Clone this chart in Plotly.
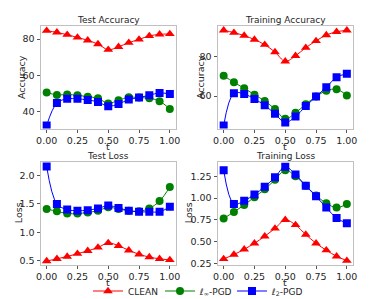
import plotly.graph_objects as go

t = [i / 12 for i in range(13)]

# Test Accuracy
ta_clean = [84.6, 83.7, 82.4, 80.9, 79.3, 77.2, 74.1, 75.7, 78.0, 79.8, 81.7, 82.6, 82.8]
ta_linf = [50.4, 49.1, 49.3, 48.9, 48.1, 47.2, 44.4, 46.1, 47.8, 47.6, 47.2, 45.6, 41.3]
ta_l2 = [32.2, 44.6, 46.9, 46.9, 46.3, 45.2, 42.8, 44.1, 46.5, 47.6, 48.9, 50.2, 49.6]

# Training Accuracy
tr_clean = [93.2, 92.0, 90.5, 88.5, 85.9, 82.2, 77.5, 80.3, 84.4, 87.8, 90.8, 92.4, 93.2]
tr_linf = [70.2, 66.9, 63.9, 60.7, 57.5, 53.4, 48.5, 51.5, 55.9, 59.7, 62.7, 63.4, 60.3]
tr_l2 = [45.1, 61.4, 61.0, 58.5, 55.3, 51.0, 46.6, 49.7, 54.9, 59.7, 64.4, 69.5, 71.2]

# Test Loss
tl_clean = [0.49, 0.53, 0.57, 0.62, 0.67, 0.73, 0.81, 0.76, 0.68, 0.61, 0.56, 0.53, 0.51]
tl_linf = [1.41, 1.37, 1.33, 1.33, 1.35, 1.38, 1.44, 1.41, 1.38, 1.37, 1.42, 1.55, 1.80]
tl_l2 = [2.16, 1.50, 1.40, 1.38, 1.39, 1.42, 1.47, 1.43, 1.38, 1.36, 1.36, 1.36, 1.45]

# Training Loss
trl_clean = [0.30, 0.35, 0.41, 0.48, 0.56, 0.65, 0.75, 0.69, 0.58, 0.48, 0.40, 0.33, 0.28]
trl_linf = [0.765, 0.84, 0.92, 1.01, 1.10, 1.21, 1.32, 1.25, 1.14, 1.03, 0.94, 0.89, 0.93]
trl_l2 = [1.32, 0.93, 0.97, 1.04, 1.13, 1.24, 1.36, 1.27, 1.14, 1.02, 0.89, 0.77, 0.71]

titles = ["Test Accuracy", "Training Accuracy", "Test Loss", "Training Loss"]
ylabels = ["Accuracy", "Accuracy", "Loss", "Loss"]
series_names = ["CLEAN", "<i>ℓ</i><sub>∞</sub>-PGD", "<i>ℓ</i><sub>2</sub>-PGD"]
xticks = [0, 0.25, 0.5, 0.75, 1.0]
xticklabels = ["0.00", "0.25", "0.50", "0.75", "1.00"]

data = [
    (ta_clean, ta_linf, ta_l2),
    (tr_clean, tr_linf, tr_l2),
    (tl_clean, tl_linf, tl_l2),
    (trl_clean, trl_linf, trl_l2),
]

W, H = 383, 299
D = 8  # page body margin offset
FONT = "DejaVu Sans"
TXT = "#262626"
FS = 9

colors = ["#ff0000", "#008000", "#0000ff"]
symbols = ["triangle-up", "circle", "square"]
msizes = [8.5, 8, 8]

# screen-pixel geometry of each panel: (left, right, top, bottom)
boxes = [(40.5, 176, 25.5, 128.5), (217.5, 353, 25.5, 128.5), (40.5, 176, 161.5, 265), (217.5, 353, 161.5, 265)]
yranges = [[30.5, 87.5], [43.6, 95.6], [0.42, 2.25], [0.23, 1.42]]
ytickvals = [[40, 60, 80], [60, 80], [0.5, 1.0, 1.5, 2.0], [0.25, 0.5, 0.75, 1.0, 1.25]]
yticktext = [["40", "60", "80"], ["60", "80"], ["0.5", "1.0", "1.5", "2.0"],
             ["0.25", "0.50", "0.75", "1.00", "1.25"]]
ylabel_x = [21, 200, 18, 188]


def px(x):
    return (x - D) / W


def py(y):
    return 1 - (y - D) / H


fig = go.Figure()
annotations = []
layout = {}
for k in range(4):
    idx = "" if k == 0 else str(k + 1)
    l, r, tp, b = boxes[k]
    for s in range(3):
        fig.add_trace(go.Scatter(
            x=t, y=data[k][s], mode="lines+markers",
            line=dict(color=colors[s], width=1, shape="spline", smoothing=1.0),
            marker=dict(symbol=symbols[s], size=msizes[s], color=colors[s], line=dict(width=0)),
            name=series_names[s], showlegend=(k == 0), legendgroup=str(s),
            xaxis="x" + idx, yaxis="y" + idx,
        ))
    layout["xaxis" + idx] = dict(
        domain=[px(l), px(r)], anchor="y" + idx, range=[-0.05, 1.05], automargin=False,
        tickvals=xticks, ticktext=xticklabels, ticks="outside", ticklen=3, tickwidth=1,
        tickcolor="#555555", showgrid=False, zeroline=False, showline=True, linecolor="#c0c0c0",
        linewidth=1, mirror=True, tickfont=dict(family=FONT, size=FS + 0.5, color=TXT),
    )
    layout["yaxis" + idx] = dict(
        domain=[py(b), py(tp)], anchor="x" + idx, range=yranges[k], automargin=False,
        tickvals=ytickvals[k], ticktext=yticktext[k], ticks="outside", ticklen=3, tickwidth=1,
        tickcolor="#555555", showgrid=False, zeroline=False, showline=True, linecolor="#c0c0c0",
        linewidth=1, mirror=True, tickfont=dict(family=FONT, size=FS + 0.5, color=TXT),
    )
    cx = (l + r) / 2
    annotations.append(dict(text=titles[k], x=px(cx), y=py(tp + 1.5), xref="paper", yref="paper",
                            xanchor="center", yanchor="bottom", showarrow=False,
                            font=dict(family=FONT, size=FS, color=TXT)))
    annotations.append(dict(text="t", x=px(cx), y=py(b + 10), xref="paper", yref="paper",
                            xanchor="center", yanchor="top", showarrow=False,
                            font=dict(family=FONT, size=FS + 0.5, color=TXT)))
    annotations.append(dict(text=ylabels[k], x=px(ylabel_x[k]), y=py((tp + b) / 2),
                            xref="paper", yref="paper", xanchor="center", yanchor="middle",
                            textangle=-90, showarrow=False,
                            font=dict(family=FONT, size=FS + 0.5, color=TXT)))

fig.update_layout(
    width=W, height=H, margin=dict(l=0, r=0, t=0, b=0),
    paper_bgcolor="white", plot_bgcolor="white",
    annotations=annotations,
    legend=dict(orientation="h", x=px(88), y=py(291), xanchor="left", yanchor="middle",
                font=dict(family=FONT, size=FS, color=TXT), bgcolor="rgba(0,0,0,0)",
                itemwidth=30, tracegroupgap=0, entrywidth=27, entrywidthmode="pixels"),
    **layout,
)

fig.write_html("out.html")
